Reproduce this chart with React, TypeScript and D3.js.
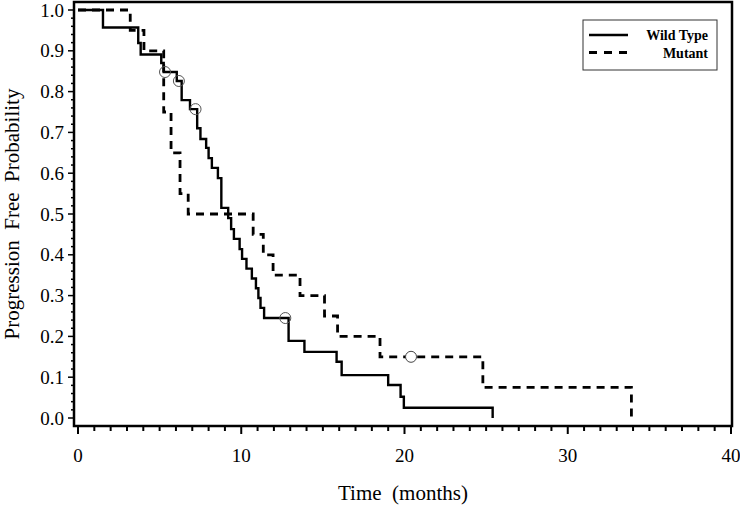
import React from "react";
import * as d3 from "d3";

// ---- Data ----
const wtTimes = [0, 1.53, 3.69, 3.84, 5.1, 5.25, 6.05, 6.35, 6.86, 7.3, 7.5, 7.85, 8.0, 8.2, 8.57, 8.78, 9.2, 9.38, 9.55, 9.9, 10.05, 10.32, 10.65, 10.9, 11.05, 11.18, 11.4, 12.9, 13.87, 15.84, 16.15, 19.0, 19.76, 19.96, 25.4];
const wtSurv = [1, 0.957, 0.919, 0.891, 0.87, 0.848, 0.826, 0.779, 0.757, 0.71, 0.684, 0.662, 0.637, 0.613, 0.588, 0.515, 0.49, 0.463, 0.439, 0.414, 0.39, 0.366, 0.342, 0.318, 0.294, 0.27, 0.245, 0.189, 0.162, 0.138, 0.105, 0.081, 0.052, 0.025, 0];
const wtCensorTimes = [5.33, 6.18, 7.2, 12.7];
const wtCensorSurv = [0.848, 0.826, 0.757, 0.245];

const mutTimes = [0, 3.2, 4.04, 5.25, 5.7, 6.25, 6.75, 10.73, 11.35, 11.95, 13.6, 15.1, 15.9, 18.5, 24.8, 33.9];
const mutSurv = [1, 0.95, 0.9, 0.75, 0.65, 0.55, 0.5, 0.45, 0.4, 0.35, 0.3, 0.25, 0.2, 0.15, 0.075, 0];
const mutCensorTimes = [20.4];
const mutCensorSurv = [0.15];

const xTickValues = [0, 10, 20, 30, 40];
const yTickValues = [0, 0.1, 0.2, 0.3, 0.4, 0.5, 0.6, 0.7, 0.8, 0.9, 1.0];
const seriesNames = ["Wild Type", "Mutant"];
const xTitle = "Time  (months)";
const yTitle = "Progression  Free  Probability";

const W = 740;
const H = 505;
const frame = { left: 74, right: 732, top: 2, bottom: 426 };

export default function App() {
  const x = d3.scaleLinear().domain([0, 40]).range([78, 731]);
  const y = d3.scaleLinear().domain([0, 1]).range([418, 10]);

  const line = d3
    .line<[number, number]>()
    .x((d) => x(d[0]))
    .y((d) => y(d[1]))
    .curve(d3.curveStepAfter);

  const wtPts: [number, number][] = wtTimes.map((t, i) => [t, wtSurv[i]]);
  const mutPts: [number, number][] = mutTimes.map((t, i) => [t, mutSurv[i]]);

  const xMinor = d3.range(0, 41, 1);
  const yMinor = d3.range(0, 1.0001, 0.02);

  const font = "Liberation Serif, Times New Roman, serif";

  return (
    <div style={{ position: "absolute", left: 0, top: 0, width: W, height: H, background: "#fff" }}>
      <svg width={W} height={H} style={{ display: "block" }}>
        <rect x={0} y={0} width={W} height={H} fill="#fff" />
        {/* curves */}
        <path d={line(wtPts) || ""} fill="none" stroke="#000" strokeWidth={2.4} />
        <path d={line(mutPts) || ""} fill="none" stroke="#000" strokeWidth={2.8} strokeDasharray="8,6" />
        {/* censor marks */}
        {wtCensorTimes.map((t, i) => (
          <circle key={"wc" + i} cx={x(t)} cy={y(wtCensorSurv[i])} r={5.5} fill="none" stroke="#555" strokeWidth={1} />
        ))}
        {mutCensorTimes.map((t, i) => (
          <circle key={"mc" + i} cx={x(t)} cy={y(mutCensorSurv[i])} r={5.5} fill="#fff" stroke="#444" strokeWidth={1} />
        ))}
        {/* frame */}
        <rect
          x={frame.left}
          y={frame.top}
          width={frame.right - frame.left}
          height={frame.bottom - frame.top}
          fill="none"
          stroke="#000"
          strokeWidth={2.5}
        />
        {/* x ticks */}
        {xMinor.map((v) => (
          <line
            key={"xm" + v}
            x1={x(v)}
            x2={x(v)}
            y1={frame.bottom}
            y2={frame.bottom + (v % 10 === 0 ? 8 : 5)}
            stroke="#000"
            strokeWidth={2}
          />
        ))}
        {xTickValues.map((v) => (
          <text key={"xl" + v} x={x(v)} y={462} textAnchor="middle" fontFamily={font} fontSize={19} fill="#000">
            {v}
          </text>
        ))}
        {/* y ticks */}
        {yMinor.map((v, i) => (
          <line
            key={"ym" + i}
            x1={frame.left}
            x2={frame.left - (i % 5 === 0 ? 6 : 3)}
            y1={y(v)}
            y2={y(v)}
            stroke="#000"
            strokeWidth={1.5}
          />
        ))}
        {yTickValues.map((v) => (
          <text
            key={"yl" + v}
            x={frame.left - 10}
            y={y(v)}
            dy="0.35em"
            textAnchor="end"
            fontFamily={font}
            fontSize={19}
            fill="#000"
          >
            {v.toFixed(1)}
          </text>
        ))}
        {/* axis titles */}
        <text
          x={(frame.left + frame.right) / 2}
          y={500}
          textAnchor="middle"
          fontFamily={font}
          fontSize={21}
          fill="#000"
          style={{ whiteSpace: "pre" }}
        >
          {xTitle}
        </text>
        <text
          transform={`translate(19, ${(frame.top + frame.bottom) / 2}) rotate(-90)`}
          textAnchor="middle"
          fontFamily={font}
          fontSize={21}
          fill="#000"
          style={{ whiteSpace: "pre" }}
        >
          {yTitle}
        </text>
        {/* legend */}
        <g>
          <rect x={583} y={20} width={134} height={50} fill="#fff" stroke="#333" strokeWidth={1} />
          <line x1={589} x2={628} y1={35} y2={35} stroke="#000" strokeWidth={2.4} />
          <line x1={589} x2={628} y1={52.5} y2={52.5} stroke="#000" strokeWidth={2.8} strokeDasharray="8,7" />
          <text x={708} y={40} textAnchor="end" fontFamily={font} fontWeight="bold" fontSize={14} fill="#000">
            {seriesNames[0]}
          </text>
          <text x={708} y={57.5} textAnchor="end" fontFamily={font} fontWeight="bold" fontSize={14} fill="#000">
            {seriesNames[1]}
          </text>
        </g>
      </svg>
    </div>
  );
}
